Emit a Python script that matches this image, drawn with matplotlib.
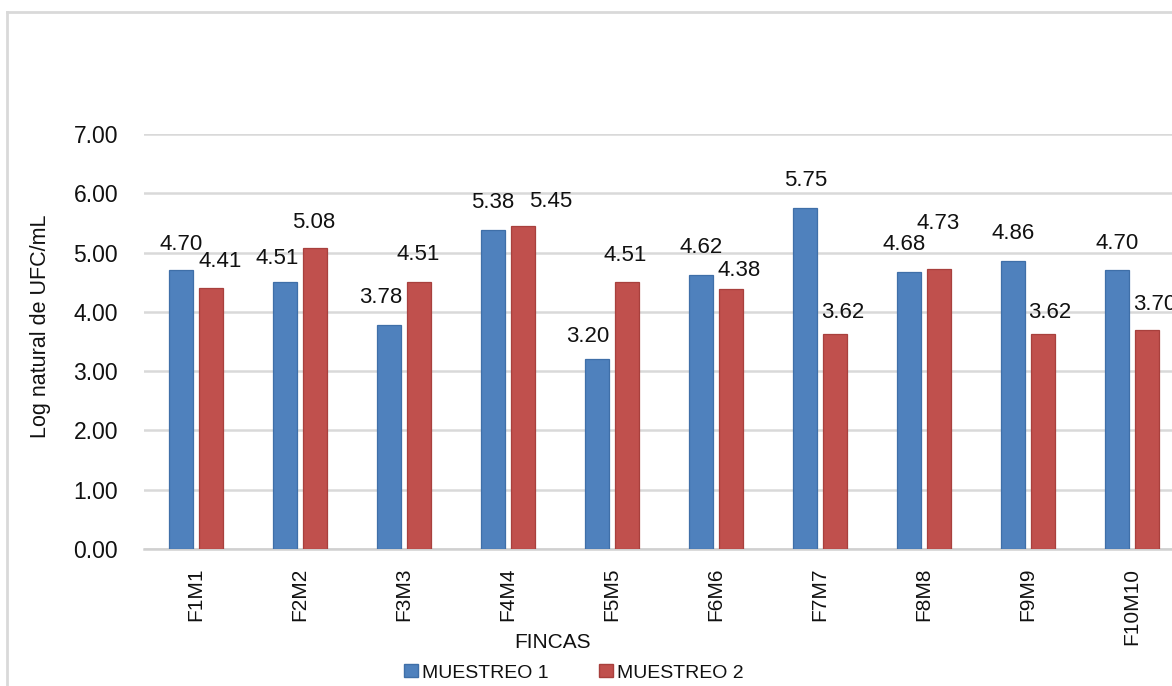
import matplotlib
matplotlib.use("Agg")
import matplotlib.pyplot as plt
import numpy as np
from matplotlib.lines import Line2D
from matplotlib.patches import Patch

categories = ["F1M1", "F2M2", "F3M3", "F4M4", "F5M5", "F6M6", "F7M7", "F8M8", "F9M9", "F10M10"]
muestreo1 = [4.70, 4.51, 3.78, 5.38, 3.20, 4.62, 5.75, 4.68, 4.86, 4.70]
muestreo2 = [4.41, 5.08, 4.51, 5.45, 4.51, 4.38, 3.62, 4.73, 3.62, 3.70]
series_names = ["MUESTREO 1", "MUESTREO 2"]
yticks = [0, 1, 2, 3, 4, 5, 6, 7]

plt.rcParams['font.family'] = ['Liberation Sans', 'DejaVu Sans']

W, H = 1172, 686
fig = plt.figure(figsize=(W / 100, H / 100), dpi=100)
ax = fig.add_axes([144 / W, 1 - 549 / H, 1040 / W, 415 / H])

x = np.arange(len(categories))
bw = 0.23
off = 0.142
blue, red = "#4F81BD", "#C0504D"
ax.bar(x - off, muestreo1, bw, color=blue, edgecolor="#3F6FA8", linewidth=0.9, zorder=3)
ax.bar(x + off, muestreo2, bw, color=red, edgecolor="#A8403D", linewidth=0.9, zorder=3)

# label placement nudges in pixels (dx, dy above bar top), mimicking the reference layout
lab1 = [(0, 27), (-8.5, 24), (-8, 28), (-1, 29), (-9.5, 24), (0, 29), (0, 29), (-5, 28), (0, 28.5), (0, 27.5)]
lab2 = [(9.5, 27), (-1, 26.5), (-1, 28), (28, 25), (-2, 27), (8, 20), (7.5, 23), (-0.5, 46), (7, 23), (8, 26)]
for i, v in enumerate(muestreo1):
    dx, dy = lab1[i]
    ax.annotate(f"{v:.2f}", (x[i] - off, v), xytext=(dx * 0.72, (dy - 1) * 0.72), textcoords="offset points",
                ha="center", va="center", fontsize=16, color="#111111")
for i, v in enumerate(muestreo2):
    dx, dy = lab2[i]
    ax.annotate(f"{v:.2f}", (x[i] + off, v), xytext=(dx * 0.72, (dy - 1) * 0.72), textcoords="offset points",
                ha="center", va="center", fontsize=16, color="#111111", annotation_clip=False)

ax.set_xlim(-0.5, len(categories) - 0.5)
ax.set_ylim(0, 7)
ax.set_yticks(yticks)
ax.set_yticklabels([f"{t:.2f}" for t in yticks], fontsize=16.5, color="#111111")
ax.set_xticks(x)
ax.set_xticklabels(categories, rotation=90, fontsize=15, color="#111111")
ax.tick_params(axis="y", length=0, pad=18.7)
ax.tick_params(axis="x", length=0, pad=13.5)
ax.grid(axis="y", color="#D9D9D9", linewidth=1.8, zorder=0)
for s in ["top", "right", "left"]:
    ax.spines[s].set_visible(False)
ax.spines["bottom"].set_color("#D0D0D0")
ax.spines["bottom"].set_linewidth(1.8)

fig.text(41 / W, 1 - 326 / H, "Log natural de UFC/mL", rotation=90, ha="center", va="center",
         fontsize=15.5, color="#111111")
fig.text(553 / W, 1 - 643 / H, "FINCAS", ha="center", va="center", fontsize=15, color="#111111")

handles = [Patch(facecolor=blue, edgecolor="#3F6FA8"), Patch(facecolor=red, edgecolor="#A8403D")]
fig.legend(handles, series_names, loc="center", bbox_to_anchor=(574 / W, 1 - 673 / H), ncol=2,
           frameon=False, fontsize=14, handlelength=0.72, handleheight=0.62, handletextpad=0.2,
           columnspacing=2.6, borderpad=0, labelcolor="#111111")

# outer chart border
fig.add_artist(Line2D([7 / W, 7 / W], [0, 1 - 12 / H], color="#D9D9D9", linewidth=2))
fig.add_artist(Line2D([7 / W, 1], [1 - 12 / H, 1 - 12 / H], color="#D9D9D9", linewidth=2))

fig.savefig("out.png", dpi=100)
